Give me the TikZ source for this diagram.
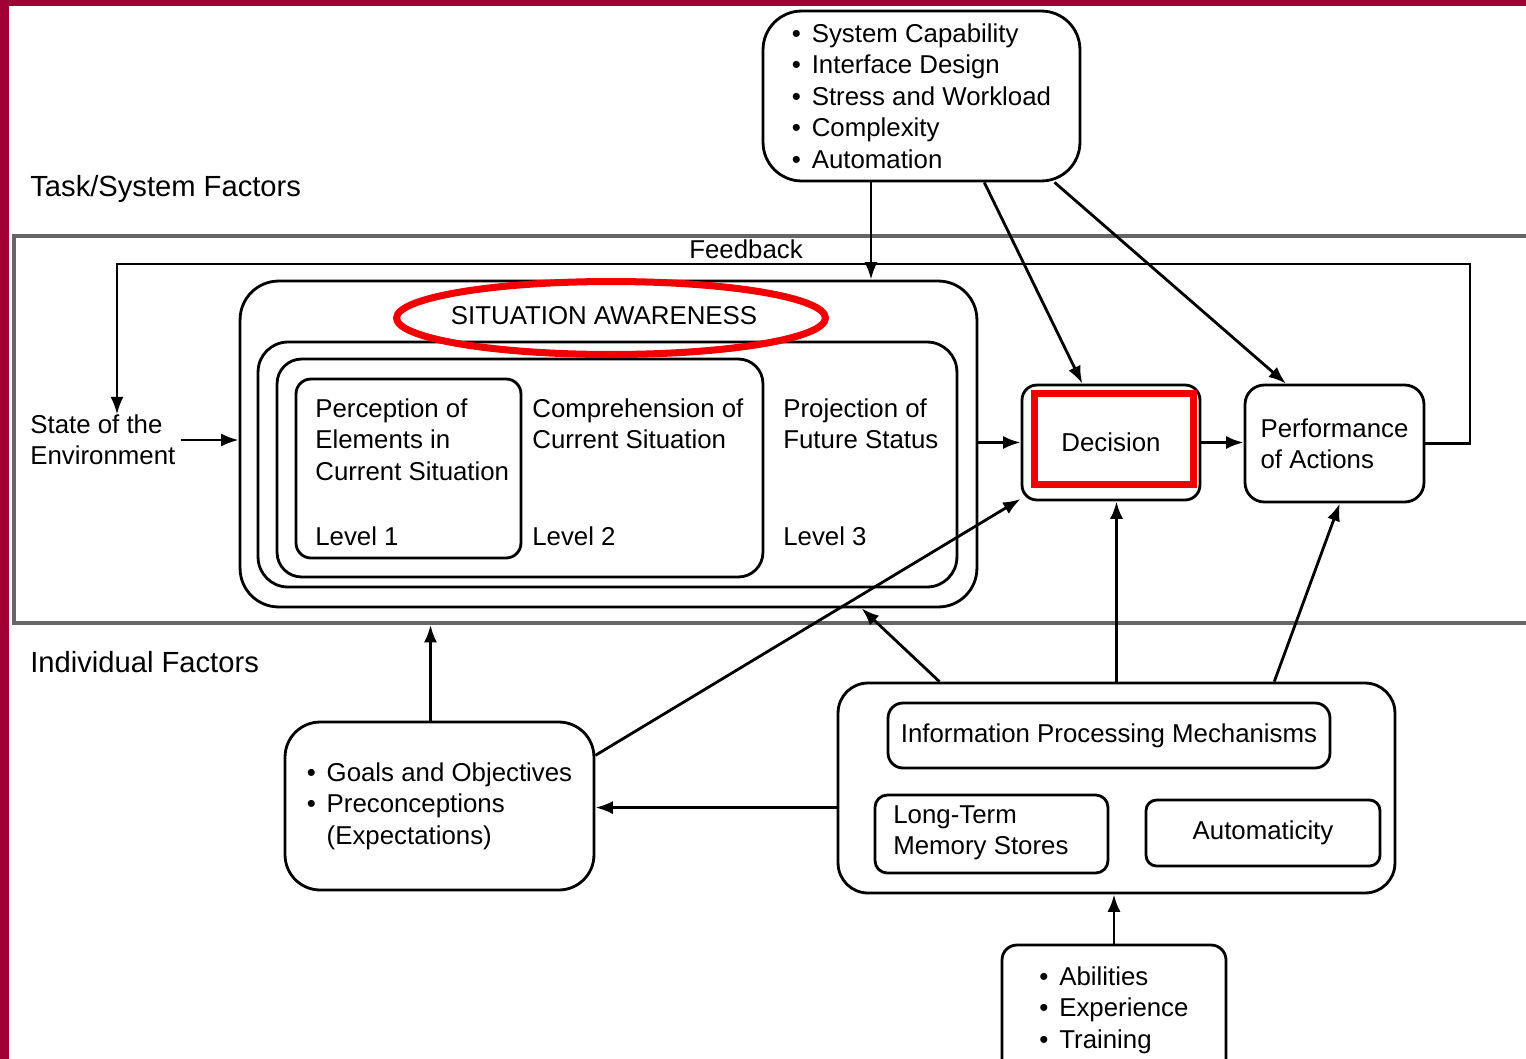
\documentclass[tikz,border=0pt]{standalone}
\usepackage{fontspec}
\setmainfont{Liberation Sans}
\usepackage{tikz}
\usetikzlibrary{arrows.meta,calc}
\definecolor{frame}{RGB}{160,0,52}
\definecolor{markred}{RGB}{240,0,0}
\newcommand{\itm}{\makebox[0.77em][l]{\textbullet}}

\begin{document}
\begin{tikzpicture}[x=0.02cm,y=-0.02cm,>={Latex[length=10pt,width=7.5pt]},
	font=\fontsize{14.7}{17.9}\selectfont,
	box/.style={draw,line width=1.6pt,rounded corners=#1,inner sep=0pt,align=left},
	box/.default=8pt,
	conn/.style={->,line width=1.6pt},
	redmark/.style={draw=markred,line width=4pt},
	lbl/.style={inner sep=0pt,align=left,anchor=west},
	title/.style={lbl,font=\fontsize{16.6}{20}\selectfont}]
	\useasboundingbox (0,0) rectangle (1526,1059);
	\clip (0,0) rectangle (1526,1059);
	\fill[frame] (0,0) rectangle (9,1059);		%left frame
	\fill[frame] (0,0) rectangle (1526,6);		%top frame
	
	\node[draw=black!60,line width=2.2pt,minimum width=30.52cm,minimum height=7.74cm,inner sep=0pt] (band) at (777,429.5) {};
	\node[title] (tsf)  at (30,189) {Task/System Factors};
	\node[title] (indf) at (30,662) {Individual Factors};
	
	\node[box=22pt,minimum width=6.34cm,minimum height=3.4cm] (sysfac) at (921.5,96)
		{\itm System Capability\\ \itm Interface Design\\ \itm Stress and Workload\\ \itm Complexity\\ \itm Automation};
	
	\node[lbl] (env) at (30,440) {State of the\\Environment};
	\node[inner sep=0pt] (fblbl) at (746,249) {Feedback};
	
	% situation awareness boxes
	\node[box=22pt,minimum width=14.74cm,minimum height=6.52cm] (sa) at (608.5,444) {};
	\node[box=17pt,minimum width=13.98cm,minimum height=4.90cm] (lvlthree) at (607.5,464.5) {};
	\node[box=14pt,minimum width=9.72cm,minimum height=4.36cm] (lvltwo) at (520,468) {};
	\node[box=8.5pt,minimum width=4.50cm,minimum height=3.58cm] (lvlone) at (408.5,468.5) {};
	\node[inner sep=0pt] (satitle) at (604,316) {SITUATION AWARENESS};
	\node[lbl] (perc) at (315,439.5) {Perception of\\Elements in\\Current Situation};
	\node[lbl] (comp) at (532,423.5) {Comprehension of\\Current Situation};
	\node[lbl] (proj) at (783,423.5) {Projection of\\Future Status};
	\node[lbl] (lone)   at (315,536) {Level 1};
	\node[lbl] (ltwo)   at (532,536) {Level 2};
	\node[lbl] (lthree) at (783,536) {Level 3};
	
	\node[box=8.5pt,minimum width=3.56cm,minimum height=2.30cm] (dec) at (1111,442.5) {Decision};
	\node[box=11pt,minimum width=3.58cm,minimum height=2.34cm] (perf) at (1334.5,443.5) {Performance\\of Actions};
	
	% individual factors
	\node[box=20pt,minimum width=6.18cm,minimum height=3.36cm] (goals) at (439.5,806)
		{\itm Goals and Objectives\\ \itm Preconceptions\\ \phantom{\itm}(Expectations)};
	\node[box=17pt,minimum width=11.14cm,minimum height=4.20cm] (ip) at (1116.5,788) {};
	\node[box=8.5pt,minimum width=8.84cm,minimum height=1.30cm] (ipm) at (1109,735.5) {Information Processing Mechanisms};
	\node[box=7pt,minimum width=4.66cm,minimum height=1.56cm] (ltm) at (991.5,834) {};
	\node[lbl] (ltmtxt) at (893,833) {Long-Term\\Memory Stores};
	\node[box=6pt,minimum width=4.68cm,minimum height=1.32cm] (autom) at (1263,833) {Automaticity};
	\node[box=8.5pt,minimum width=4.48cm,minimum height=2.60cm] (abil) at (1114,1010)
		{\itm Abilities\\ \itm Experience\\ \itm Training};
	
	% connectors
	\coordinate (sf1) at ($(sysfac.south)+(-50.5,0)$);
	\coordinate (fbr) at (1470,264);
	\coordinate (fbl) at (117,264);
	\draw[conn] (sf1) -- (sf1 |- sa.north);
	\draw[conn] (sysfac.-54) -- (dec.116);
	\draw[conn] (sysfac.-33) -- (perf.129);
	\draw[conn] (perf.east) -| (fbr) -- (fbl) -- (fbl |- env.north);	%feedback loop
	\draw[conn] (env.east) ++(5,0) -- (env.east -| sa.west);
	\draw[conn] (sa.east |- dec.west) -- (dec.west);
	\draw[conn] (dec.east) -- (dec.east -| perf.west);
	\draw[conn] (goals.96.5) -- (goals.96.5 |- band.south);
	\draw[conn] (goals.18) -- (dec.212);
	\draw[conn] (ip.149) -- (sa.-33);
	\draw[conn] (ip.north) -- (ip.north |- dec.south);
	\draw[conn] (ip.34) -- (perf.-85);
	\draw[conn] (ip.184) -- (ip.184 -| goals.east);
	\draw[conn] (abil.north) -- (abil.north |- ip.south);
	
	% red highlights
	\draw[redmark] (611,318) ellipse [x radius=4.29cm, y radius=0.73cm];
	\draw[redmark] (1034.5,393.5) rectangle (1193.5,484.5);
\end{tikzpicture}
\end{document}
